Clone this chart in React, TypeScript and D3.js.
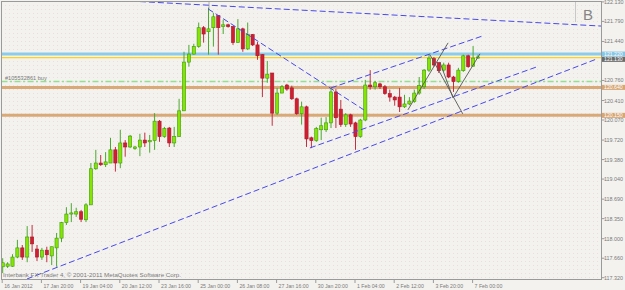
import React from 'react';
import * as d3 from 'd3';

const W = 625;
const H = 290;

// H4 bars, bar 0 = 16 Jan 2012 12:00 ... bar 97 = 7 Feb 04:00
const opens = [117.51,117.52,117.52,117.68,117.84,117.68,118.03,117.82,117.68,117.80,117.70,117.84,118.01,118.28,118.43,118.43,118.47,118.33,118.59,119.22,119.32,119.29,119.32,119.55,119.32,119.67,119.60,119.57,119.60,119.72,119.69,119.71,120.05,119.78,119.93,119.67,119.78,120.23,121.08,121.22,121.35,121.68,121.61,121.68,121.89,121.70,121.73,121.70,121.42,121.66,121.31,121.56,121.38,121.21,120.80,120.89,120.19,120.54,120.68,120.63,120.44,120.18,120.30,119.76,119.71,119.90,119.90,120.02,120.56,120.26,119.99,120.16,120.02,119.78,120.07,120.68,120.65,120.70,120.65,120.53,120.47,120.47,120.30,120.35,120.39,120.54,120.65,120.94,121.14,121.07,120.94,121.03,120.82,120.74,120.93,121.19,121.01,121.15];
const highs = [117.66,117.59,117.73,117.98,117.89,118.22,118.24,117.89,117.84,117.86,117.86,118.10,118.29,118.55,118.62,118.54,118.50,118.62,119.32,119.55,119.46,119.51,119.76,119.60,119.90,119.72,119.81,119.62,119.83,119.85,119.81,120.19,120.07,119.95,119.95,119.95,120.44,121.26,121.38,121.40,121.77,121.71,122.03,121.94,121.90,121.82,121.75,121.71,121.83,121.68,121.77,121.57,121.43,121.22,121.10,120.89,120.63,120.68,120.70,120.67,120.46,120.39,120.32,119.78,119.95,120.11,120.12,120.63,120.61,120.42,120.19,120.18,120.04,120.09,120.77,120.94,120.75,120.72,120.68,120.60,120.49,120.63,120.51,120.47,120.60,120.82,120.96,121.21,121.17,121.07,121.07,121.07,120.84,120.98,121.21,121.21,121.36,121.21];
const lows = [117.40,117.49,117.51,117.66,117.63,117.59,117.77,117.61,117.63,117.59,117.54,117.51,117.94,118.24,118.29,118.38,118.29,118.29,118.59,119.20,119.27,119.25,119.32,119.17,119.23,119.43,119.58,119.55,119.44,119.60,119.50,119.55,119.69,119.76,119.60,119.60,119.78,120.23,121.00,121.21,121.33,121.42,121.21,121.35,121.21,121.57,121.68,121.38,121.42,121.26,121.29,121.36,121.12,120.47,120.72,119.97,120.16,120.54,120.58,120.42,120.16,119.99,119.60,119.58,119.69,119.72,119.86,119.93,119.93,119.95,119.95,119.95,119.55,119.76,120.05,120.60,120.60,120.61,120.51,120.39,120.32,120.21,120.28,120.33,120.37,120.51,120.61,120.91,121.00,120.89,120.91,120.80,120.56,120.72,120.91,120.98,121.00,121.14];
const closes = [117.58,117.56,117.68,117.84,117.68,118.03,117.91,117.68,117.80,117.72,117.86,118.01,118.28,118.43,118.45,118.47,118.34,118.59,119.22,119.32,119.29,119.34,119.55,119.32,119.67,119.60,119.79,119.60,119.72,119.67,119.71,120.05,119.78,119.92,119.67,119.78,120.23,121.08,121.22,121.35,121.68,121.57,121.66,121.87,121.68,121.73,121.70,121.42,121.66,121.31,121.56,121.38,121.19,120.80,120.87,120.19,120.54,120.65,120.61,120.44,120.18,120.30,119.74,119.71,119.92,119.97,120.02,120.56,120.11,119.99,120.16,120.00,119.78,120.07,120.68,120.65,120.72,120.65,120.53,120.47,120.42,120.30,120.35,120.40,120.54,120.67,120.94,121.15,121.03,120.93,121.03,120.82,120.74,120.94,121.19,121.00,121.15,121.17];

const priceTicks = [117.32,117.66,118.0,118.35,118.69,119.04,119.38,119.72,120.07,120.41,120.76,121.1,121.44,121.79,122.13];
// tick labels hidden under a price tag in the reference
const hiddenPriceLabels = [121.1];
const timeTickBars = [0,8,16,24,32,40,48,56,64,72,80,88,96];
const timeTickLabels = ['16 Jan 2012','17 Jan 20:00','19 Jan 04:00','20 Jan 12:00','23 Jan 16:00','25 Jan 00:00','26 Jan 08:00','27 Jan 16:00','30 Jan 20:00','1 Feb 04:00','2 Feb 12:00','3 Feb 20:00','7 Feb 00:00'];

// horizontal level objects
const levelPrices = [121.22, 121.159, 120.741, 120.639, 120.151];
const levelKinds = ['blue', 'yellow', 'order', 'orange', 'orange'];
// right-axis price tags
const tagPrices = [121.22, 121.128, 120.639, 120.151];
const tagTexts = ['121.220', '121.130', '120.640', '120.150'];
const tagColors = ['#86c7e6', '#6a6a6a', '#d6a676', '#d6a676'];

// trend lines: [bar1, price1, bar2, price2]
const blueLines = [
  [28.0, 122.136, 122.1, 121.709],
  [41.9, 122.009, 73.7, 120.247],
  [67.0, 120.63, 98.0, 121.538],
  [62.7, 119.583, 109.0, 120.997],
  [4.96, 117.298, 121.3, 121.137],
];
const grayLines = [
  [82.7, 120.247, 90.9, 121.416],
  [87.2, 121.207, 93.9, 120.177],
  [89.2, 121.084, 91.9, 120.456],
  [91.9, 120.456, 97.4, 121.224],
];

export default function App() {
  const x = d3.scaleLinear().domain([0, 97]).range([2.7, 478]);
  const y = d3.scaleLinear().domain([117.32, 122.13]).range([277.7, 1.9]);
  const left = 1.5, right = 601.5, top = 1.5, bottom = 279.5;
  const font = 'Liberation Sans, Arial, sans-serif';
  const txt = '#7a7a7a';

  return (
    <svg width={W} height={H} style={{ position: 'absolute', left: 0, top: 0, display: 'block' }}
      xmlns="http://www.w3.org/2000/svg">
      <rect x={0} y={0} width={W} height={H} fill="#f3f2ee" />
      <defs>
        <pattern id="dots" width="4" height="4" patternUnits="userSpaceOnUse">
          <rect x="1" y="1" width="1" height="1" fill="#e8e0df" />
        </pattern>
        <clipPath id="plot"><rect x={left} y={top} width={right - left} height={bottom - top} /></clipPath>
      </defs>
      <rect x={left} y={top} width={right - left} height={bottom - top} fill="url(#dots)" />

      <g clipPath="url(#plot)">
        {/* horizontal levels */}
        {levelPrices.map((p, i) => {
          const k = levelKinds[i];
          const yy = y(p);
          if (k === 'blue') return <line key={i} x1={left} x2={right} y1={yy} y2={yy} stroke="#8ccbea" strokeWidth={3} />;
          if (k === 'yellow') return <line key={i} x1={left} x2={right} y1={yy} y2={yy} stroke="#ffd21a" strokeWidth={1.2} />;
          if (k === 'order') return <line key={i} x1={left} x2={right} y1={yy} y2={yy} stroke="#95e090" strokeWidth={1.5} strokeDasharray="6 2.5 2 2.5" />;
          return <line key={i} x1={left} x2={right} y1={yy} y2={yy} stroke="#d9a978" strokeWidth={3} />;
        })}
        <text x={5} y={y(levelPrices[2]) - 1.5} fontSize={5.6} fill={txt} fontFamily={font}>#105532861 buy</text>

        {/* small markers */}
        <line x1={209} x2={209} y1={0} y2={9} stroke="#b0b0b0" strokeWidth={1} />
        <line x1={575.5} x2={575.5} y1={0} y2={22} stroke="#c8c8c8" strokeWidth={1} />
        <text x={588} y={20} fontSize={15} fill="#858585" fontFamily={font} textAnchor="middle">B</text>

        {/* candles */}
        {opens.map((o, i) => {
          const c = closes[i];
          const bull = c >= o;
          const cx = x(i);
          const yTop = y(Math.max(o, c));
          const yBot = y(Math.min(o, c));
          const hgt = Math.max(1, yBot - yTop);
          return (
            <g key={i}>
              <line x1={cx} x2={cx} y1={y(highs[i])} y2={y(lows[i])}
                stroke={bull ? '#4aa82e' : '#c23040'} strokeWidth={1} />
              <rect x={cx - 1.6} y={yTop} width={3.2} height={hgt}
                fill={bull ? '#84e600' : '#d11f30'} stroke={bull ? '#3f9a10' : '#a8182a'} strokeWidth={0.6} />
            </g>
          );
        })}

        {/* trend lines */}
        {blueLines.map((l, i) => (
          <line key={'b' + i} x1={x(l[0])} y1={y(l[1])} x2={x(l[2])} y2={y(l[3])}
            stroke="#4848e8" strokeWidth={1} strokeDasharray="6 3" />
        ))}
        {grayLines.map((l, i) => (
          <line key={'g' + i} x1={x(l[0])} y1={y(l[1])} x2={x(l[2])} y2={y(l[3])}
            stroke="#555555" strokeWidth={0.9} />
        ))}

        <text x={3} y={276.5} fontSize={5.8} fill={txt} fontFamily={font} textLength={178} lengthAdjust="spacingAndGlyphs">
          Interbank FX Trader 4, © 2001-2011 MetaQuotes Software Corp.
        </text>
      </g>

      {/* frame */}
      <rect x={left} y={top} width={right - left} height={bottom - top} fill="none" stroke="#9a9a9a" strokeWidth={1} />

      {/* right axis */}
      {priceTicks.map((p, i) => (
        <g key={'pt' + i}>
          <line x1={right} x2={right + 3} y1={y(p)} y2={y(p)} stroke="#9a9a9a" strokeWidth={1} />
          {hiddenPriceLabels.includes(p) ? null :
            <text x={604} y={y(p) + 2} fontSize={5.4} fill={txt} fontFamily={font}>{p.toFixed(3)}</text>}
        </g>
      ))}
      {tagPrices.map((p, i) => (
        <g key={'tag' + i}>
          <rect x={602} y={y(p) - 2.5} width={23} height={5} fill={tagColors[i]} />
          <text x={604} y={y(p) + 1.9} fontSize={5.2} fill="#ffffff" fontFamily={font}>{tagTexts[i]}</text>
        </g>
      ))}

      {/* time axis */}
      {timeTickBars.map((b, i) => {
        const tx = x(b) - 0.5;
        return (
          <g key={'tt' + i}>
            <line x1={tx} x2={tx} y1={bottom} y2={bottom + 3.5} stroke="#9a9a9a" strokeWidth={1} />
            <text x={tx + 2} y={287.5} fontSize={5.2} fill={txt} fontFamily={font}>{timeTickLabels[i]}</text>
          </g>
        );
      })}
    </svg>
  );
}
